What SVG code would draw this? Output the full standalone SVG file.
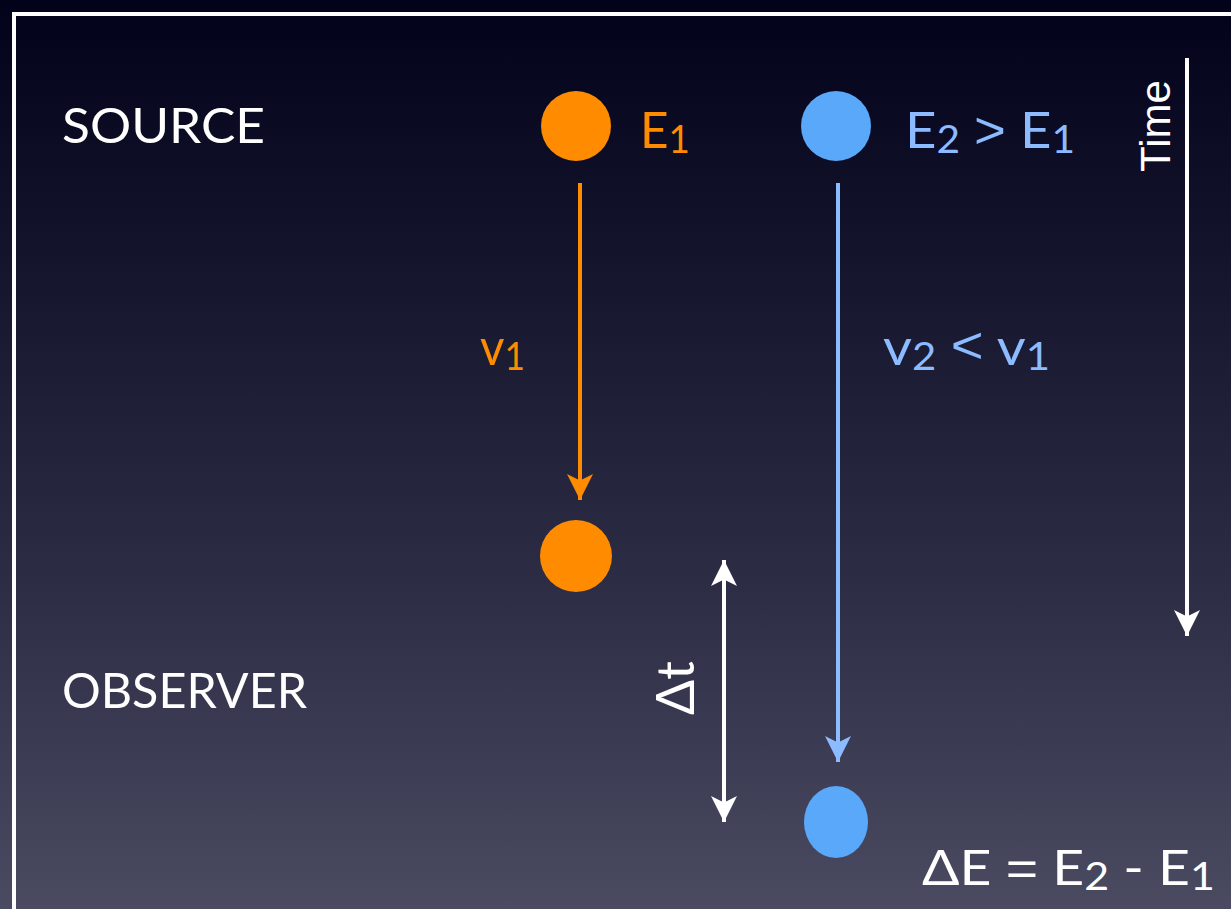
<svg xmlns="http://www.w3.org/2000/svg" width="1231" height="909" viewBox="0 0 1231 909">
<defs>
<linearGradient id="bg" x1="0" y1="0" x2="0" y2="1">
<stop offset="0" stop-color="#02021a"/>
<stop offset="0.3" stop-color="#15152d"/>
<stop offset="0.65" stop-color="#2d2d46"/>
<stop offset="1" stop-color="#4a4a61"/>
</linearGradient>
<marker id="ao" viewBox="0 0 10 10" refX="10" refY="5" markerWidth="6.5" markerHeight="6.5" markerUnits="strokeWidth" orient="auto-start-reverse"><path d="M0,0 L10,5 L0,10 L2.5,5 Z" fill="#ff8c00"/></marker>
<marker id="ab" viewBox="0 0 10 10" refX="10" refY="5" markerWidth="6.5" markerHeight="6.5" markerUnits="strokeWidth" orient="auto-start-reverse"><path d="M0,0 L10,5 L0,10 L2.5,5 Z" fill="#8cbcff"/></marker>
<marker id="aw" viewBox="0 0 10 10" refX="10" refY="5" markerWidth="6.5" markerHeight="6.5" markerUnits="strokeWidth" orient="auto-start-reverse"><path d="M0,0 L10,5 L0,10 L2.5,5 Z" fill="#ffffff"/></marker>
</defs>
<style>
text{font-family:"Lato","Open Sans","Liberation Sans",sans-serif;}
.w{fill:#ffffff;font-size:49px;}
.o{fill:#ff8c00;font-size:51px;}
.b{fill:#8cbcff;font-size:51px;}
.sub{font-size:38px;}
.op{font-family:"Liberation Sans","DejaVu Sans",sans-serif;}
.ln{fill:none;stroke-width:4;}
</style>
<rect x="0" y="0" width="1231" height="909" fill="url(#bg)"/>
<rect x="14" y="14" width="1240" height="920" fill="none" stroke="#ffffff" stroke-width="4"/>

<g id="source-label"><text class="w" x="62" y="143" textLength="203" lengthAdjust="spacingAndGlyphs">SOURCE</text></g>
<g id="observer-label"><text class="w" x="62" y="708" textLength="245" lengthAdjust="spacingAndGlyphs">OBSERVER</text></g>

<g id="photon1-source">
<circle cx="576" cy="126" r="35" fill="#ff8c00"/>
<text class="o" x="640" y="148" textLength="50" lengthAdjust="spacingAndGlyphs">E<tspan class="sub" dy="5">1</tspan></text>
</g>
<g id="photon2-source">
<ellipse cx="836" cy="126" rx="35" ry="35" fill="#5aa8fa"/>
<text class="b" x="905" y="148" textLength="170" lengthAdjust="spacingAndGlyphs">E<tspan class="sub" dy="5">2</tspan><tspan dy="-5"> </tspan><tspan class="op">&gt;</tspan><tspan> E</tspan><tspan class="sub" dy="5">1</tspan></text>
</g>
<g id="photon1-observer"><circle cx="576" cy="556" r="36" fill="#ff8c00"/></g>
<g id="photon2-observer"><ellipse cx="836" cy="822" rx="32" ry="36" fill="#5aa8fa"/></g>

<g id="label-v1"><text class="o" x="480" y="365" textLength="45" lengthAdjust="spacingAndGlyphs">v<tspan class="sub" dy="5">1</tspan></text></g>
<g id="label-v2"><text class="b" x="883" y="365" textLength="167" lengthAdjust="spacingAndGlyphs">v<tspan class="sub" dy="5">2</tspan><tspan dy="-5"> </tspan><tspan class="op" dy="-2">&lt;</tspan><tspan dy="2"> v</tspan><tspan class="sub" dy="5">1</tspan></text></g>
<g id="label-dE"><text class="w" x="922" y="885" textLength="293" lengthAdjust="spacingAndGlyphs">ΔE <tspan class="op">=</tspan> E<tspan class="sub" dy="5">2</tspan><tspan dy="-5"> - E</tspan><tspan class="sub" dy="5">1</tspan></text></g>
<g id="label-dt"><text class="w" x="0" y="0" text-anchor="middle" style="font-size:52px" transform="translate(694,688) rotate(-90)">Δt</text></g>
<g id="label-time"><text x="0" y="0" text-anchor="middle" fill="#ffffff" font-size="42" style="font-family:'Liberation Sans',Arial,sans-serif" transform="translate(1170,126) rotate(-90)">Time</text></g>

<g id="connectors">
<line class="ln" x1="580" y1="183" x2="580" y2="500" stroke="#ff8c00" marker-end="url(#ao)"/>
<line class="ln" x1="838" y1="183" x2="838" y2="762" stroke="#8cbcff" marker-end="url(#ab)"/>
<line class="ln" x1="724" y1="560" x2="724" y2="822" stroke="#ffffff" marker-start="url(#aw)" marker-end="url(#aw)"/>
<line class="ln" x1="1187" y1="58" x2="1187" y2="636" stroke="#ffffff" marker-end="url(#aw)"/>
</g>
</svg>
